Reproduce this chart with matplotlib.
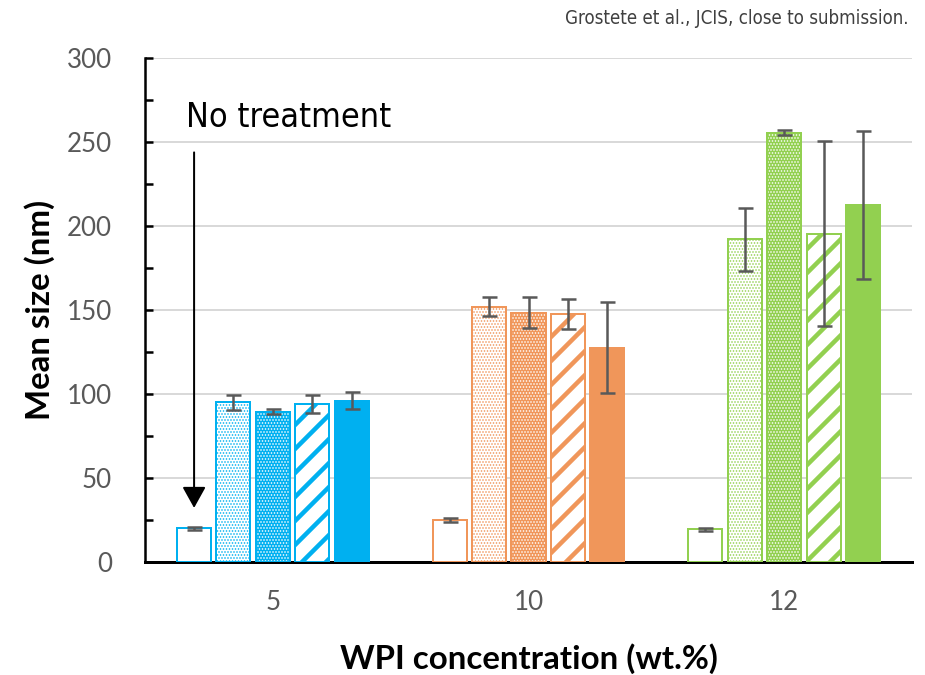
import numpy as np
import matplotlib
matplotlib.use('agg')
import matplotlib.pyplot as plt

# WPI concentration groups and the five treatments in each group
groups = ['5', '10', '12']
colors = ['#00B0F0', '#F0965A', '#92D050']

# mean size (nm) per group, treatments in order (no treatment first)
sizes_5 = [20, 95, 89.5, 94, 96]
sizes_10 = [25, 152, 148.5, 147.5, 127.5]
sizes_12 = [19.5, 192, 255.5, 195.5, 212.5]

err_5 = [0.8, 4.5, 1.5, 5.5, 5]
err_10 = [1, 5.5, 9, 9, 27]
err_12 = [1, 19, 1.5, 55, 44]

sizes = [sizes_5, sizes_10, sizes_12]
errors = [err_5, err_10, err_12]

DPI = 72
plt.rcParams['font.family'] = ['Lato', 'DejaVu Sans']
plt.rcParams['hatch.linewidth'] = 1.0

fig = plt.figure(figsize=(925 / DPI, 675 / DPI), dpi=DPI)
ax = fig.add_axes([145 / 925, 1 - 562 / 675, (912 - 145) / 925, (562 - 58) / 675])

width = 0.133
step = 0.154
x = np.arange(len(groups))

for g in range(len(groups)):
    c = colors[g]
    for i in range(5):
        xpos = x[g] + (i - 2) * step
        v = sizes[g][i]
        if i == 0:
            ax.bar(xpos, v, width, facecolor='white', edgecolor=c, linewidth=2, zorder=3)
        elif i == 1:
            ax.bar(xpos, v, width, facecolor='white', edgecolor=c, linewidth=2, hatch='....', zorder=3)
        elif i == 2:
            # coloured bar with white dots, then the outline again on top
            ax.bar(xpos, v, width, facecolor=c, edgecolor=c, linewidth=2, zorder=3)
            ax.bar(xpos, v, width, facecolor='none', edgecolor='white', linewidth=0, hatch='....', zorder=3)
            ax.bar(xpos, v, width, facecolor='none', edgecolor=c, linewidth=2, zorder=3)
        elif i == 3:
            b = ax.bar(xpos, v, width, facecolor='white', edgecolor=c, linewidth=2, hatch='/', zorder=3)
            for p in b:
                if hasattr(p, 'set_hatch_linewidth'):
                    p.set_hatch_linewidth(4.5)
        else:
            ax.bar(xpos, v, width, facecolor=c, edgecolor=c, linewidth=2, zorder=3)
        ax.errorbar(xpos, v, yerr=errors[g][i], fmt='none', ecolor='#595959',
                    elinewidth=2.5, capsize=7.5, capthick=2.5, zorder=4)

ax.set_xlim(-0.5, 2.5)
ax.set_ylim(0, 300)
ax.set_yticks(np.arange(0, 301, 50))
ax.set_yticks(np.arange(25, 300, 50), minor=True)
ax.set_xticks(x)
ax.set_xticklabels(groups)

ax.grid(axis='y', color='#D9D9D9', linewidth=2, zorder=0)
ax.set_axisbelow(True)

for s in ['top', 'right']:
    ax.spines[s].set_visible(False)
ax.spines['left'].set_linewidth(2.5)
ax.spines['bottom'].set_linewidth(3)

ax.tick_params(axis='y', which='both', direction='in', length=8, width=2.5,
               labelsize=26, labelcolor='#595959', pad=33)
ax.tick_params(axis='x', length=0, labelsize=26, labelcolor='#595959', pad=28)

ax.set_ylabel('Mean size (nm)', fontsize=33, fontweight='bold', labelpad=12)
ax.set_xlabel('WPI concentration (wt.%)', fontsize=33, fontweight='bold', labelpad=28)

narrow = dict(family='DejaVu Sans', stretch='condensed')

# arrow pointing at the untreated bar
x0 = x[0] - 2 * step
ax.annotate('', xy=(x0, 31), xytext=(x0, 245),
            arrowprops=dict(arrowstyle='-|>,head_width=0.5,head_length=0.9',
                            color='black', lw=2, mutation_scale=20), zorder=5)
ax.text(x0 - 0.03, 259, 'No treatment', fontsize=34, ha='left', va='baseline', zorder=5, **narrow)

fig.text(0.982, 0.972, 'Grostete et al., JCIS, close to submission.', fontsize=18.6,
         color='#404040', ha='right', va='center', **narrow)

plt.savefig('out.png', dpi=DPI)
